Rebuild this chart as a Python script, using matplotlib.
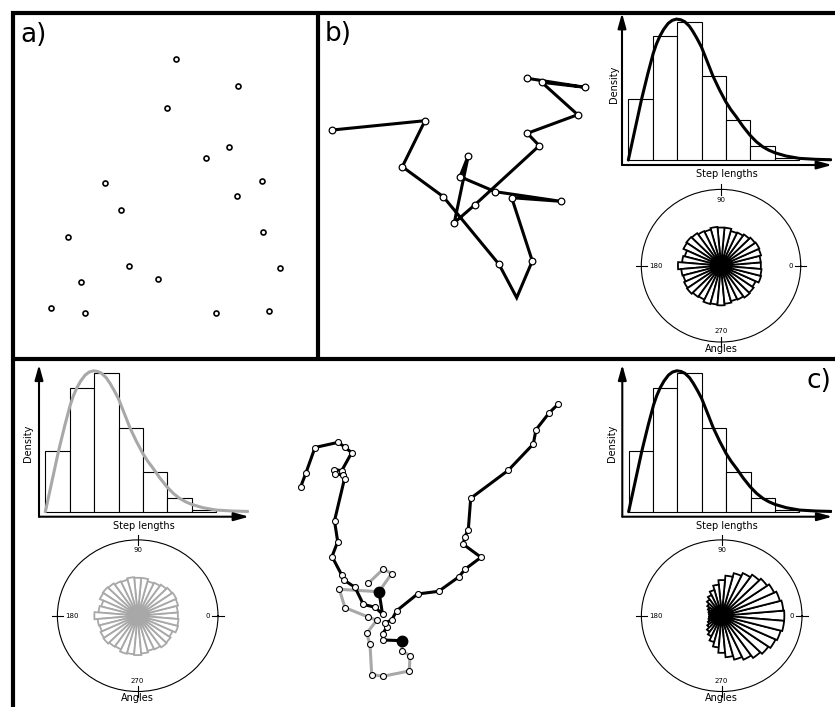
import numpy as np
import matplotlib
matplotlib.use('Agg')
import matplotlib.pyplot as plt

W, H = 835, 707

# a) scattered locations
a_x = [176, 238, 167, 229, 206, 105, 262, 237, 121, 68, 263, 129, 158, 280, 81, 51, 85, 216, 269]
a_y = [59, 86, 108, 147, 158, 183, 181, 196, 210, 237, 232, 266, 279, 268, 282, 308, 313, 313, 311]

# b) random walk
b_x = [332.3, 425, 402.3, 443.3, 499, 516.7, 532.3, 511.7, 560.7, 495.3,
       460, 468.3, 454.3, 475, 539.3, 527.3, 577.7, 541.7, 585, 527.3]
b_y = [130, 120.7, 166.7, 196.7, 264.3, 297.7, 261, 197.7, 201.3, 191.7,
       176.7, 155.7, 222.7, 204.7, 145.7, 133.3, 114.7, 82.3, 87.3, 78.3]

# c) track, black state 1 -> gray state -> black state 2
c1_x = [300.7, 306, 315, 338.3, 345, 351.7, 341.7, 334.3, 335, 343.3, 344.5, 334.5,
        337.7, 332, 341.7, 344, 355, 363.3, 375, 382.5, 379]
c1_y = [486.7, 472.7, 447.5, 442.3, 447.3, 452.7, 470.7, 469.5, 474, 475, 478.7, 520.8,
        541.7, 556.5, 575, 580, 587.3, 604.3, 607.3, 614, 591.7]
cg_x = [368.3, 383.3, 391.7, 379, 339.3, 345, 368.3, 376.7, 366.7, 370, 371.7,
        382.7, 409.3, 410, 401.7, 402.3]
cg_y = [583.3, 569, 573.5, 591.7, 589.3, 607.7, 617, 620.3, 633.3, 644.3, 674.5,
        676.3, 671, 655.7, 650.7, 640.7]
c2_x = [402.3, 383.3, 382.7, 387, 385, 391.7, 396.7, 417.5, 438.7, 458.7, 465.3, 481,
        463.3, 464.7, 468.3, 470.7, 508.3, 533.3, 536, 549.3, 558.3]
c2_y = [640.7, 640, 633.7, 627, 623, 620, 610.7, 594, 591.3, 577, 569, 557.3,
        544.3, 537, 529.7, 498.3, 470.3, 444, 429.7, 412.7, 404]

# step length histogram (bin index units) and fitted density
bin_edges = [0, 1, 2, 3, 4, 5, 6, 7]
bin_heights = [0.441, 0.897, 1.0, 0.607, 0.289, 0.101, 0.012]
curve_x = [0, 0.272, 0.544, 0.8, 1.02, 1.15, 1.293, 1.45, 1.633, 1.8, 1.973, 2.15,
           2.313, 2.5, 2.653, 2.82, 2.993, 3.23, 3.469, 3.73, 3.993, 4.2, 4.422,
           4.7, 4.98, 5.25, 5.51, 5.75, 6.0, 6.463, 7.007, 7.687, 8.3]
curve_y = [0, 0.221, 0.441, 0.625, 0.771, 0.838, 0.896, 0.945, 0.988, 1.01, 1.019,
           1.014, 1.0, 0.968, 0.928, 0.877, 0.819, 0.714, 0.607, 0.51, 0.422, 0.365,
           0.313, 0.243, 0.181, 0.132, 0.096, 0.072, 0.053, 0.029, 0.012, 0.005, 0.002]

# turning angle roses (36 sectors)
angles = list(range(0, 360, 10))
rose_uniform = [0.50, 0.50, 0.52, 0.53, 0.52, 0.50, 0.48, 0.47, 0.50, 0.50, 0.51, 0.49,
                0.50, 0.52, 0.53, 0.52, 0.47, 0.49, 0.54, 0.50, 0.49, 0.51, 0.52, 0.50,
                0.49, 0.52, 0.51, 0.52, 0.50, 0.48, 0.49, 0.51, 0.50, 0.48, 0.52, 0.51]
rose_directed = [0.78, 0.77, 0.75, 0.72, 0.69, 0.66, 0.62, 0.58, 0.53, 0.47, 0.41, 0.35,
                 0.30, 0.26, 0.22, 0.19, 0.17, 0.16, 0.15, 0.16, 0.17, 0.19, 0.22, 0.26,
                 0.30, 0.36, 0.42, 0.49, 0.55, 0.60, 0.64, 0.68, 0.71, 0.74, 0.76, 0.78]

GRAY = '#a8a8a8'

fig = plt.figure(figsize=(W / 100, H / 100), dpi=100)


def px_axes(x0, y0, x1, y1, **kw):
    return fig.add_axes([x0 / W, 1 - y1 / H, (x1 - x0) / W, (y1 - y0) / H], **kw)


def hist_panel(x0, ybase, color, lab_dx, lab_y):
    hax = px_axes(x0, ybase - 152, x0 + 210, ybase)
    centers = [(bin_edges[i] + bin_edges[i + 1]) / 2 for i in range(len(bin_heights))]
    hax.bar(centers, bin_heights, width=1, facecolor='white', edgecolor='black', lw=0.8)
    hax.plot(curve_x, curve_y, color=color, lw=2.2, solid_capstyle='round',
             solid_joinstyle='round')
    hax.set_xlim(-0.26, 8.35)
    hax.set_ylim(-0.036, 1.063)
    hax.axis('off')
    arrow = dict(arrowstyle='-|>,head_length=0.9,head_width=0.25', lw=1.5, color='black',
                 shrinkA=0, shrinkB=0, mutation_scale=10)
    hax.annotate('', xy=(1, 0), xytext=(0, 0), xycoords='axes fraction', arrowprops=arrow)
    hax.annotate('', xy=(0, 1), xytext=(0, 0), xycoords='axes fraction', arrowprops=arrow)
    hax.text(0.5, -0.025, 'Step lengths', transform=hax.transAxes, ha='center', va='top', fontsize=7)
    hax.text(lab_dx, lab_y, 'Density', transform=hax.transAxes, ha='center', va='center',
             rotation=90, fontsize=7)


def rose_panel(cx, cy, rx, ry, values, color):
    pax = px_axes(cx - rx, cy - ry, cx + rx, cy + ry, polar=True)
    pax.set_aspect('auto')
    pax.bar(np.deg2rad(angles), values, width=np.deg2rad(10), bottom=0,
            facecolor='white', edgecolor=color, lw=1.3)
    pax.set_ylim(0, 1)
    pax.set_xticks([])
    pax.set_yticks([])
    pax.grid(False)
    pax.spines['polar'].set_linewidth(0.8)
    for t in [0, 90, 180, 270]:
        pax.plot([np.deg2rad(t)] * 2, [0.93, 1.07], color='black', lw=0.8, clip_on=False)
    pax.text(0, 0.9, '0', ha='right', va='center', fontsize=5)
    pax.text(np.pi / 2, 0.9, '90', ha='center', va='top', fontsize=5)
    pax.text(np.pi, 0.9, '180', ha='left', va='center', fontsize=5)
    pax.text(3 * np.pi / 2, 0.9, '270', ha='center', va='bottom', fontsize=5)
    pax.text(0.5, -0.01, 'Angles', transform=pax.transAxes, ha='center', va='top', fontsize=7)


# canvas for frames, points and tracks
ax = fig.add_axes([0, 0, 1, 1])
ax.set_xlim(0, W)
ax.set_ylim(H, 0)
ax.axis('off')

ax.hlines(12.5, 11, W, color='black', lw=3)
ax.vlines(13, 11, H, color='black', lw=3)
ax.vlines(317.5, 11, 360, color='black', lw=3)
ax.hlines(359, 11, W, color='black', lw=3)

ax.text(20, 35, 'a)', fontsize=19, ha='left', va='center')
ax.text(325, 34, 'b)', fontsize=19, ha='left', va='center')
ax.text(807, 381, 'c)', fontsize=19, ha='left', va='center')

ax.plot(a_x, a_y, 'o', ms=3.6, mfc='white', mec='black', mew=1.2)

b_marks = [i for i in range(len(b_x)) if i != 5]
ax.plot(b_x, b_y, '-', color='black', lw=2.2, solid_joinstyle='miter')
ax.plot(b_x, b_y, 'o', ms=4.8, mfc='white', mec='black', mew=0.9, markevery=b_marks)

ax.plot(cg_x, cg_y, '-', color=GRAY, lw=2.2)
ax.plot(c1_x, c1_y, '-', color='black', lw=2.2)
ax.plot(c2_x, c2_y, '-', color='black', lw=2.2)
for xs, ys in [(cg_x, cg_y), (c1_x, c1_y), (c2_x, c2_y)]:
    ax.plot(xs, ys, 'o', ms=4.3, mfc='white', mec='black', mew=0.8)
ax.plot([c1_x[-1], c2_x[0]], [c1_y[-1], c2_y[0]], 'o', ms=7.5, color='black')

hist_panel(622, 165, 'black', -0.04, 0.53)
hist_panel(39, 516.7, GRAY, -0.05, 0.48)
hist_panel(622.3, 516.7, 'black', -0.05, 0.48)

rose_panel(721, 265.7, 79.7, 76.3, rose_uniform, 'black')
rose_panel(137.7, 615.7, 80.3, 75.8, rose_uniform, GRAY)
rose_panel(721.7, 615.7, 80.3, 75.8, rose_directed, 'black')

fig.savefig('out.png', dpi=100)
